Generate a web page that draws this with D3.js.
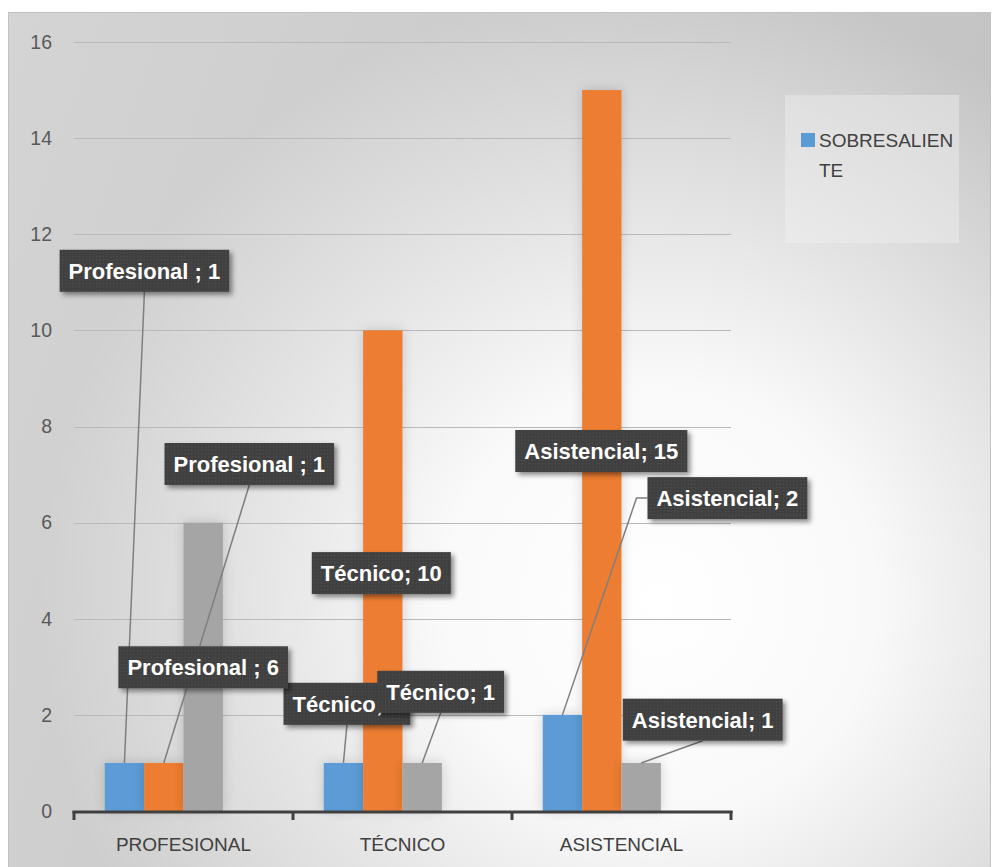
<!DOCTYPE html>
<html>
<head>
<meta charset="utf-8">
<script src="https://cdn.jsdelivr.net/npm/d3@7/dist/d3.min.js"></script>
<style>
  html, body { margin: 0; padding: 0; background: #ffffff; }
  svg { display: block; }
</style>
</head>
<body>
<script>
// ---------- data ----------
const categories = ["PROFESIONAL", "TÉCNICO", "ASISTENCIAL"];
const labelNames = ["Profesional ", "Técnico", "Asistencial"];
const seriesNames = ["SOBRESALIENTE", "Serie 2", "Serie 3", "Serie 4"];
const sobresaliente = [1, 1, 2];
const serie2 = [1, 10, 15];
const serie3 = [6, 1, 1];
const serie4 = [null, null, null]; // empty series (reserves a slot in each group)
const yTicks = [0, 2, 4, 6, 8, 10, 12, 14, 16];
const legendLines = ["SOBRESALIEN", "TE"];

// ---------- layout ----------
const W = 992, H = 867;
const colors = ["#5b9bd5", "#ed7d31", "#a5a5a5", "#ffc000"];
const plot = { left: 74, right: 731, top: 42, bottom: 811 };
// label placement: offset from bar centre (px) and vertical anchor value
const labelLayout = [
  [{ dx: 20, v: 11.24 }, { dx: 3.5, v: 2.23 }, { dx: 165, v: 6.51 }],
  [{ dx: 85.5, v: 7.22 }, { dx: -1.5, v: 4.95 }, { dx: -0.5, v: 7.49 }],
  [{ dx: 0, v: 2.99 }, { dx: 18.5, v: 2.48 }, { dx: 61.5, v: 1.90 }]
];

const seriesValues = [sobresaliente, serie2, serie3, serie4];

const svg = d3.select("body").append("svg").attr("width", W).attr("height", H);
const defs = svg.append("defs");

// background gradients
const lg = defs.append("linearGradient").attr("id", "bgLin")
  .attr("x1", "0").attr("y1", "0").attr("x2", "1").attr("y2", "0.3");
lg.append("stop").attr("offset", "0").attr("stop-color", "#d4d4d4");
lg.append("stop").attr("offset", "1").attr("stop-color", "#c3c3c3");

const rg = defs.append("radialGradient").attr("id", "bgRad")
  .attr("gradientUnits", "userSpaceOnUse")
  .attr("cx", 660).attr("cy", 600).attr("r", 620);
rg.append("stop").attr("offset", "0").attr("stop-color", "#ffffff").attr("stop-opacity", 1);
rg.append("stop").attr("offset", "0.35").attr("stop-color", "#ffffff").attr("stop-opacity", 0.9);
rg.append("stop").attr("offset", "1").attr("stop-color", "#ffffff").attr("stop-opacity", 0);

// dotted pattern for labels
const pat = defs.append("pattern").attr("id", "dots")
  .attr("patternUnits", "userSpaceOnUse").attr("width", 3.4).attr("height", 3.4);
pat.append("rect").attr("width", 3.4).attr("height", 3.4).attr("fill", "#3f3f3f");
pat.append("rect").attr("x", 1).attr("y", 1).attr("width", 1).attr("height", 1).attr("fill", "#595959");

// shadows
const sh = defs.append("filter").attr("id", "lblShadow")
  .attr("x", "-20%").attr("y", "-30%").attr("width", "140%").attr("height", "170%");
sh.append("feDropShadow").attr("dx", 3).attr("dy", 3).attr("stdDeviation", 2.5)
  .attr("flood-color", "#000").attr("flood-opacity", 0.45);

const bsh = defs.append("filter").attr("id", "barShadow")
  .attr("x", "-60%").attr("y", "-10%").attr("width", "220%").attr("height", "120%");
bsh.append("feDropShadow").attr("dx", 0).attr("dy", 0).attr("stdDeviation", 6)
  .attr("flood-color", "#000").attr("flood-opacity", 0.16);

// chart area
svg.append("rect").attr("x", 8.5).attr("y", 12.5).attr("width", W - 10).attr("height", H - 12)
  .attr("fill", "url(#bgLin)").attr("stroke", "#c2c2c2");
svg.append("rect").attr("x", 9).attr("y", 13).attr("width", W - 11).attr("height", H - 13)
  .attr("fill", "url(#bgRad)");

// ---------- scales ----------
const x0 = d3.scaleBand().domain(categories).range([plot.left, plot.right]).padding(0);
const x1 = d3.scaleBand().domain(seriesNames).range([0, x0.bandwidth()])
  .paddingInner(0).paddingOuter(0.78);
const y = d3.scaleLinear().domain([0, 16]).range([plot.bottom, plot.top]);

// gridlines
svg.append("g").selectAll("line").data(yTicks.filter(d => d > 0)).join("line")
  .attr("x1", plot.left).attr("x2", plot.right)
  .attr("y1", d => Math.round(y(d)) + 0.5).attr("y2", d => Math.round(y(d)) + 0.5)
  .attr("stroke", "#b9b9b9").attr("stroke-width", 1.2);

const font = "'Liberation Sans', Arial, sans-serif";

// y axis labels
const yAxis = d3.axisLeft(y).tickValues(yTicks).tickSize(0).tickPadding(0);
const gy = svg.append("g").attr("transform", `translate(${plot.left - 22},0)`).call(yAxis);
gy.select(".domain").remove();
gy.selectAll("text").attr("font-family", font)
  .attr("font-size", 19.5).attr("fill", "#595959");

// bars
const barG = svg.append("g");
seriesValues.forEach((vals, si) => {
  barG.append("g").attr("filter", "url(#barShadow)").selectAll("rect")
    .data(vals.map((v, i) => ({ v, i })).filter(d => d.v != null)).join("rect")
    .attr("x", d => x0(categories[d.i]) + x1(seriesNames[si]))
    .attr("width", x1.bandwidth())
    .attr("y", d => y(d.v))
    .attr("height", d => y(0) - y(d.v))
    .attr("fill", colors[si]);
});

// x axis
const xAxis = d3.axisBottom(x0).tickSize(0).tickPadding(0);
const gx = svg.append("g").attr("transform", `translate(0,${plot.bottom})`).call(xAxis);
gx.select(".domain").remove();
gx.selectAll("text").attr("font-family", font)
  .attr("font-size", 19).attr("fill", "#404040").attr("dy", 0).attr("y", 40);
svg.append("line").attr("x1", plot.left - 1.5).attr("x2", plot.right + 1.5)
  .attr("y1", plot.bottom + 1).attr("y2", plot.bottom + 1)
  .attr("stroke", "#404040").attr("stroke-width", 3);
const bounds = categories.map(c => x0(c)).concat([plot.right]);
svg.append("g").selectAll("line").data(bounds).join("line")
  .attr("x1", d => d).attr("x2", d => d)
  .attr("y1", plot.bottom).attr("y2", plot.bottom + 9)
  .attr("stroke", "#404040").attr("stroke-width", 3);

// ---------- data labels ----------
const labels = [];
seriesValues.forEach((vals, si) => {
  vals.forEach((v, ci) => {
    if (v == null) return;
    const bx = x0(categories[ci]) + x1(seriesNames[si]) + x1.bandwidth() / 2;
    const L = labelLayout[si][ci];
    labels.push({
      text: `${labelNames[ci]}; ${v}`,
      barX: bx, barTop: y(v),
      cx: bx + L.dx, cy: y(L.v)
    });
  });
});

// measure text
const meas = svg.append("text").attr("font-family", font).attr("font-weight", "bold")
  .attr("font-size", 22).attr("visibility", "hidden");
labels.forEach(l => {
  meas.text(l.text);
  l.w = meas.node().getComputedTextLength() + 18;
  l.h = 42;
});
meas.remove();

// leader lines
const lineG = svg.append("g");
labels.forEach(l => {
  const bot = l.cy + l.h / 2;
  if (l.barTop <= bot + 4) return;
  const off = Math.abs(l.barX - l.cx);
  if (off > l.w * 0.75) {
    const sx = l.barX < l.cx ? l.cx - l.w / 2 : l.cx + l.w / 2;
    const ex = sx + (l.barX < l.cx ? -11 : 11);
    lineG.append("polyline")
      .attr("points", `${sx},${l.cy} ${ex},${l.cy} ${l.barX},${l.barTop}`)
      .attr("fill", "none").attr("stroke", "#7f7f7f").attr("stroke-width", 1.5);
  } else {
    lineG.append("line").attr("x1", l.cx).attr("y1", bot)
      .attr("x2", l.barX).attr("y2", l.barTop)
      .attr("stroke", "#7f7f7f").attr("stroke-width", 1.5);
  }
});

// label boxes
const lblG = svg.append("g");
labels.forEach(l => {
  const g = lblG.append("g");
  g.append("rect").attr("x", l.cx - l.w / 2).attr("y", l.cy - l.h / 2)
    .attr("width", l.w).attr("height", l.h)
    .attr("fill", "url(#dots)").attr("filter", "url(#lblShadow)");
  g.append("text").attr("x", l.cx).attr("y", l.cy + 8)
    .attr("text-anchor", "middle").attr("font-family", font).attr("font-weight", "bold")
    .attr("font-size", 22).attr("fill", "#ffffff").text(l.text);
});

// ---------- legend ----------
const leg = svg.append("g");
leg.append("rect").attr("x", 785).attr("y", 95).attr("width", 174).attr("height", 148)
  .attr("fill", "#f2f2f2").attr("fill-opacity", 0.4);
leg.append("rect").attr("x", 801).attr("y", 133).attr("width", 14).attr("height", 14)
  .attr("fill", colors[0]);
leg.selectAll("text.lg").data(legendLines).join("text").attr("class", "lg")
  .attr("x", 819).attr("y", (d, i) => 147 + i * 29.5)
  .attr("font-family", font).attr("font-size", 19).attr("fill", "#404040")
  .text(d => d);
</script>
</body>
</html>
